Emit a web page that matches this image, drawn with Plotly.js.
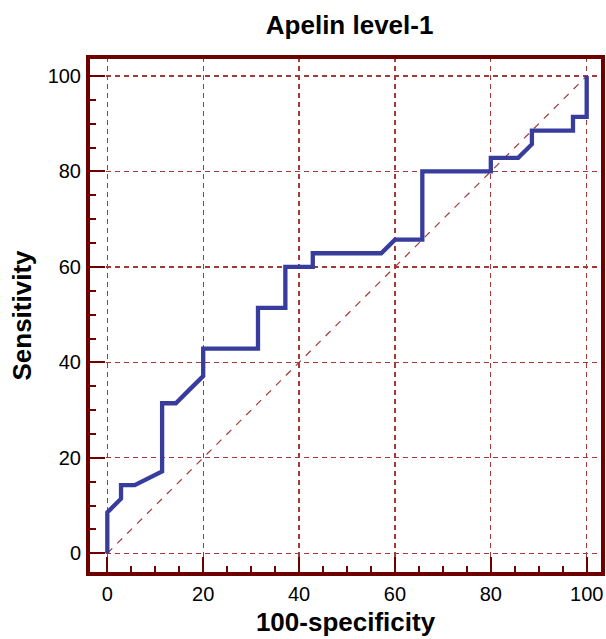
<!DOCTYPE html>
<html>
<head>
<meta charset="utf-8">
<script src="https://cdn.plot.ly/plotly-3.0.1.min.js"></script>
<style>html,body{margin:0;padding:0;background:#fff}#chart{width:606px;height:639px}</style>
</head>
<body>
<div id="chart"></div>
<script>
// ROC curve (100-specificity vs sensitivity)
const fpr = [0, 0, 2.86, 2.86, 5.71, 11.43, 11.43, 14.29, 17.14, 20, 20, 31.43, 31.43, 37.14, 37.14, 42.86, 42.86, 57.14, 60, 65.71, 65.71, 80, 80, 85.71, 88.57, 88.57, 97.14, 97.14, 100, 100];
const tpr = [0, 8.57, 11.43, 14.29, 14.29, 17.14, 31.43, 31.43, 34.29, 37.14, 42.86, 42.86, 51.43, 51.43, 60, 60, 62.86, 62.86, 65.71, 65.71, 80, 80, 82.86, 82.86, 85.71, 88.57, 88.57, 91.43, 91.43, 100];
// reference diagonal
const diagX = [0, 100];
const diagY = [0, 100];
const tickVals = [0, 20, 40, 60, 80, 100];
const tickText = ['0', '20', '40', '60', '80', '100'];

const frameColor = '#6e0000';
const gridColor = '#a33a3a';
const fontFam = '"Liberation Sans", Arial, sans-serif';

const axisCommon = {
  tickvals: tickVals,
  ticktext: tickText,
  ticks: 'inside',
  ticklen: 17,
  tickwidth: 2,
  tickcolor: frameColor,
  showgrid: true,
  gridcolor: gridColor,
  gridwidth: 1.3,
  griddash: '5px,4px',
  zeroline: false,
  showline: false,
  tickfont: {family: fontFam, size: 20, color: '#000'},
  minor: {dtick: 5, tick0: 0, ticks: 'inside', ticklen: 8, tickwidth: 2, tickcolor: frameColor, showgrid: false},
  fixedrange: true
};

const data = [
  {x: diagX, y: diagY, type: 'scatter', mode: 'lines', hoverinfo: 'skip',
   line: {color: gridColor, width: 1.2, dash: '7px,7px'}},
  {x: fpr, y: tpr, type: 'scatter', mode: 'lines',
   line: {color: '#383c9c', width: 4.3, shape: 'linear'}}
];

const layout = {
  width: 606, height: 639,
  margin: {l: 88, r: 3, t: 57, b: 65},
  paper_bgcolor: '#fff', plot_bgcolor: '#fff',
  showlegend: false,
  title: {text: '<b>Apelin level-1</b>', font: {family: fontFam, size: 26, color: '#000'},
          x: 0.508, xref: 'paper', y: 1 - 25/639, yref: 'container', yanchor: 'middle'},
  xaxis: Object.assign({}, axisCommon, {
    range: [-4.03, 103.4],
    ticklabelstandoff: 6,
    title: {text: '<b>100-specificity</b>', font: {family: fontFam, size: 26, color: '#000'}, standoff: 8}
  }),
  yaxis: Object.assign({}, axisCommon, {
    range: [-4.34, 103.98],
    ticklabelstandoff: 6,
    title: {text: '<b>Sensitivity</b>', font: {family: fontFam, size: 26, color: '#000'}, standoff: 8}
  }),
  shapes: [
    {type: 'rect', xref: 'paper', yref: 'paper', x0: 0, x1: 1, y0: 0, y1: 1,
     line: {color: frameColor, width: 4}, layer: 'above'}
  ]
};

Plotly.newPlot('chart', data, layout, {displayModeBar: false, staticPlot: true});
</script>
</body>
</html>
